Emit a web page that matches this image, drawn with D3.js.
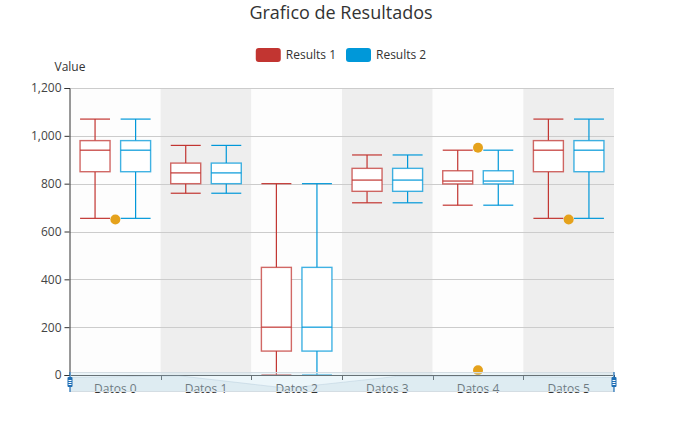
<!DOCTYPE html>
<html>
<head>
<meta charset="utf-8">
<script src="https://cdn.jsdelivr.net/npm/d3@7"></script>
<style>
  html, body { margin: 0; padding: 0; background: #fff; }
  svg { display: block; font-family: "Open Sans", "Noto Sans", sans-serif; }
</style>
</head>
<body>
<svg id="chart" width="682" height="442"></svg>
<script>
// ---- data ----
const title = "Grafico de Resultados";
const yAxisName = "Value";
const categories = ["Datos 0", "Datos 1", "Datos 2", "Datos 3", "Datos 4", "Datos 5"];
const seriesNames = ["Results 1", "Results 2"];
// [min, Q1, median, Q3, max]
const results1 = [
  [655, 850, 940, 980, 1070],
  [760, 800, 845, 886, 960],
  [0, 100, 200, 450, 800],
  [720, 768, 815, 864, 920],
  [710, 799, 811, 854, 940],
  [655, 850, 940, 980, 1070]
];
const results2 = [
  [655, 850, 940, 980, 1070],
  [760, 800, 845, 886, 960],
  [0, 100, 200, 450, 800],
  [720, 768, 815, 864, 920],
  [710, 799, 811, 854, 940],
  [655, 850, 940, 980, 1070]
];
// outliers: [category index, value]
const outliers = [[0, 650], [4, 950], [4, 20], [5, 650]];
const yTicks = [0, 200, 400, 600, 800, 1000, 1200];

// ---- styles / layout ----
const colors = ["#c23531", "#0098d9"];
const outlierColor = "#e5a21c";
const W = 682, H = 442;
const grid = { left: 70, right: 614, top: 88, bottom: 375 };

const svg = d3.select("#chart");

const x = d3.scaleBand().domain(categories).range([grid.left, grid.right]).paddingInner(0).paddingOuter(0);
const y = d3.scaleLinear().domain([0, 1200]).range([grid.bottom, grid.top]);

// split areas
svg.append("g").selectAll("rect").data(categories).join("rect")
  .attr("x", d => x(d)).attr("y", grid.top)
  .attr("width", x.bandwidth()).attr("height", grid.bottom - grid.top)
  .attr("fill", (d, i) => i % 2 === 0 ? "#fdfdfd" : "#eeeeee");

// grid lines
svg.append("g").selectAll("line").data(yTicks.filter(t => t > 0)).join("line")
  .attr("x1", grid.left).attr("x2", grid.right)
  .attr("y1", d => Math.round(y(d)) + 0.5).attr("y2", d => Math.round(y(d)) + 0.5)
  .attr("stroke", "#cccccc").attr("stroke-width", 1);

// box layout (like echarts)
const bw = x.bandwidth();
const avail = bw * 0.8 - 2;
const gap = avail / seriesNames.length * 0.3;
const boxW = Math.max(7, Math.min(50, (avail - gap * (seriesNames.length - 1)) / seriesNames.length));
const offsets = seriesNames.map((s, i) => -avail / 2 + boxW / 2 + i * (boxW + gap));

const allSeries = [results1, results2];
allSeries.forEach((data, si) => {
  const g = svg.append("g").attr("class", "series" + si);
  const col = colors[si];
  data.forEach((v, ci) => {
    const cx = x(categories[ci]) + bw / 2 + offsets[si];
    const [mn, q1, med, q3, mx] = v;
    const l = cx - boxW / 2, r = cx + boxW / 2;
    const bg = g.append("g");
    // whiskers
    bg.append("line").attr("x1", cx).attr("x2", cx).attr("y1", y(mx)).attr("y2", y(q3));
    bg.append("line").attr("x1", cx).attr("x2", cx).attr("y1", y(q1)).attr("y2", y(mn));
    bg.append("line").attr("x1", l).attr("x2", r).attr("y1", y(mx)).attr("y2", y(mx));
    bg.append("line").attr("x1", l).attr("x2", r).attr("y1", y(mn)).attr("y2", y(mn));
    // box
    bg.append("rect").attr("x", l).attr("y", y(q3)).attr("width", boxW).attr("height", y(q1) - y(q3))
      .attr("fill", "#ffffff");
    bg.append("line").attr("x1", l).attr("x2", r).attr("y1", y(med)).attr("y2", y(med));
    bg.selectAll("line").attr("stroke", col).attr("stroke-width", 1.2);
    bg.select("rect").attr("stroke", col).attr("stroke-width", 1.4).attr("stroke-opacity", 0.75);
  });
});

// outliers
svg.append("g").selectAll("circle").data(outliers).join("circle")
  .attr("cx", d => x(categories[d[0]]) + bw / 2)
  .attr("cy", d => y(d[1]))
  .attr("r", 5)
  .attr("fill", outlierColor);

// y axis
const yAxis = d3.axisLeft(y).tickValues(yTicks).tickSize(5).tickPadding(3).tickFormat(d3.format(","));
const gy = svg.append("g").attr("transform", `translate(${grid.left - 0.5},0)`).call(yAxis);
gy.select(".domain").attr("stroke", "#333");
gy.selectAll(".tick line").attr("stroke", "#333");
gy.selectAll(".tick text").attr("fill", "#444").attr("font-size", 12);
gy.attr("font-family", null);

svg.append("text").attr("x", grid.left).attr("y", 71).attr("text-anchor", "middle")
  .attr("font-size", 12).attr("fill", "#333").text(yAxisName);

// x axis line and ticks
const gx = svg.append("g");
gx.append("line").attr("x1", grid.left).attr("x2", grid.right)
  .attr("y1", grid.bottom + 0.5).attr("y2", grid.bottom + 0.5).attr("stroke", "#333");
const bounds = categories.map(c => x(c)).concat([grid.right]);
gx.selectAll("line.tk").data(bounds).join("line").attr("class", "tk")
  .attr("x1", d => Math.round(d) + 0.5).attr("x2", d => Math.round(d) + 0.5)
  .attr("y1", grid.bottom).attr("y2", grid.bottom + 5).attr("stroke", "#333");
gx.selectAll("text").data(categories).join("text")
  .attr("x", d => x(d) + bw / 2).attr("y", grid.bottom + 18)
  .attr("text-anchor", "middle").attr("font-size", 12).attr("fill", "#333")
  .text(d => d);

// dataZoom slider
const sTop = 372, sBot = 392;
const sg = svg.append("g");
sg.append("rect").attr("x", grid.left).attr("y", sTop).attr("width", grid.right - grid.left).attr("height", sBot - sTop)
  .attr("fill", "rgba(200,228,242,0.35)");
// data shadow (first series, first value dimension)
const shadowVals = results1.map(d => d[0]);
const ext = d3.extent(shadowVals);
const rng = (ext[1] - ext[0]) * 0.3;
const sx = d3.scaleLinear().domain([0, categories.length - 1]).range([grid.left, grid.right]);
const sy = d3.scaleLinear().domain([ext[0] - rng, ext[1] + rng]).range([sBot, sTop]);
const area = d3.area().x((d, i) => sx(i)).y0(sBot).y1(d => sy(d));
const line = d3.line().x((d, i) => sx(i)).y(d => sy(d));
sg.append("path").attr("d", area(shadowVals)).attr("fill", "rgba(150,180,200,0.15)");
sg.append("path").attr("d", line(shadowVals)).attr("fill", "none").attr("stroke", "rgba(150,180,200,0.35)").attr("stroke-width", 0.8);
sg.append("rect").attr("x", grid.left + 0.5).attr("y", sTop + 0.5).attr("width", grid.right - grid.left - 1).attr("height", sBot - sTop - 1)
  .attr("fill", "none").attr("stroke", "#d4dde3");
// handles
[grid.left, grid.right].forEach(hx => {
  sg.append("line").attr("x1", hx).attr("x2", hx).attr("y1", sTop).attr("y2", sBot).attr("stroke", "#1f6fb5").attr("stroke-width", 1.2);
  sg.append("rect").attr("x", hx - 2.5).attr("y", 377).attr("width", 5).attr("height", 10).attr("rx", 1)
    .attr("fill", "#1f6fb5");
  [380, 382, 384].forEach(ly => {
    sg.append("line").attr("x1", hx - 1.5).attr("x2", hx + 1.5).attr("y1", ly + 0.5).attr("y2", ly + 0.5)
      .attr("stroke", "#fff").attr("stroke-width", 1);
  });
});

// title
svg.append("text").attr("x", W / 2).attr("y", 19).attr("text-anchor", "middle")
  .attr("font-size", 18).attr("fill", "#333").text(title);

// legend
const lg = svg.append("g");
const itemW = 25, itemH = 14, itemGap = 10, textPad = 5;
const widths = seriesNames.map(s => {
  const t = lg.append("text").attr("font-size", 12).text(s);
  const w = t.node().getComputedTextLength();
  t.remove();
  return itemW + textPad + w;
});
const total = d3.sum(widths) + itemGap * (seriesNames.length - 1);
let lx = W / 2 - total / 2;
seriesNames.forEach((s, i) => {
  lg.append("rect").attr("x", lx).attr("y", 48).attr("width", itemW).attr("height", itemH).attr("rx", 3)
    .attr("fill", colors[i]);
  lg.append("text").attr("x", lx + itemW + textPad).attr("y", 59).attr("font-size", 12).attr("fill", "#333").text(s);
  lx += widths[i] + itemGap;
});
</script>
</body>
</html>
